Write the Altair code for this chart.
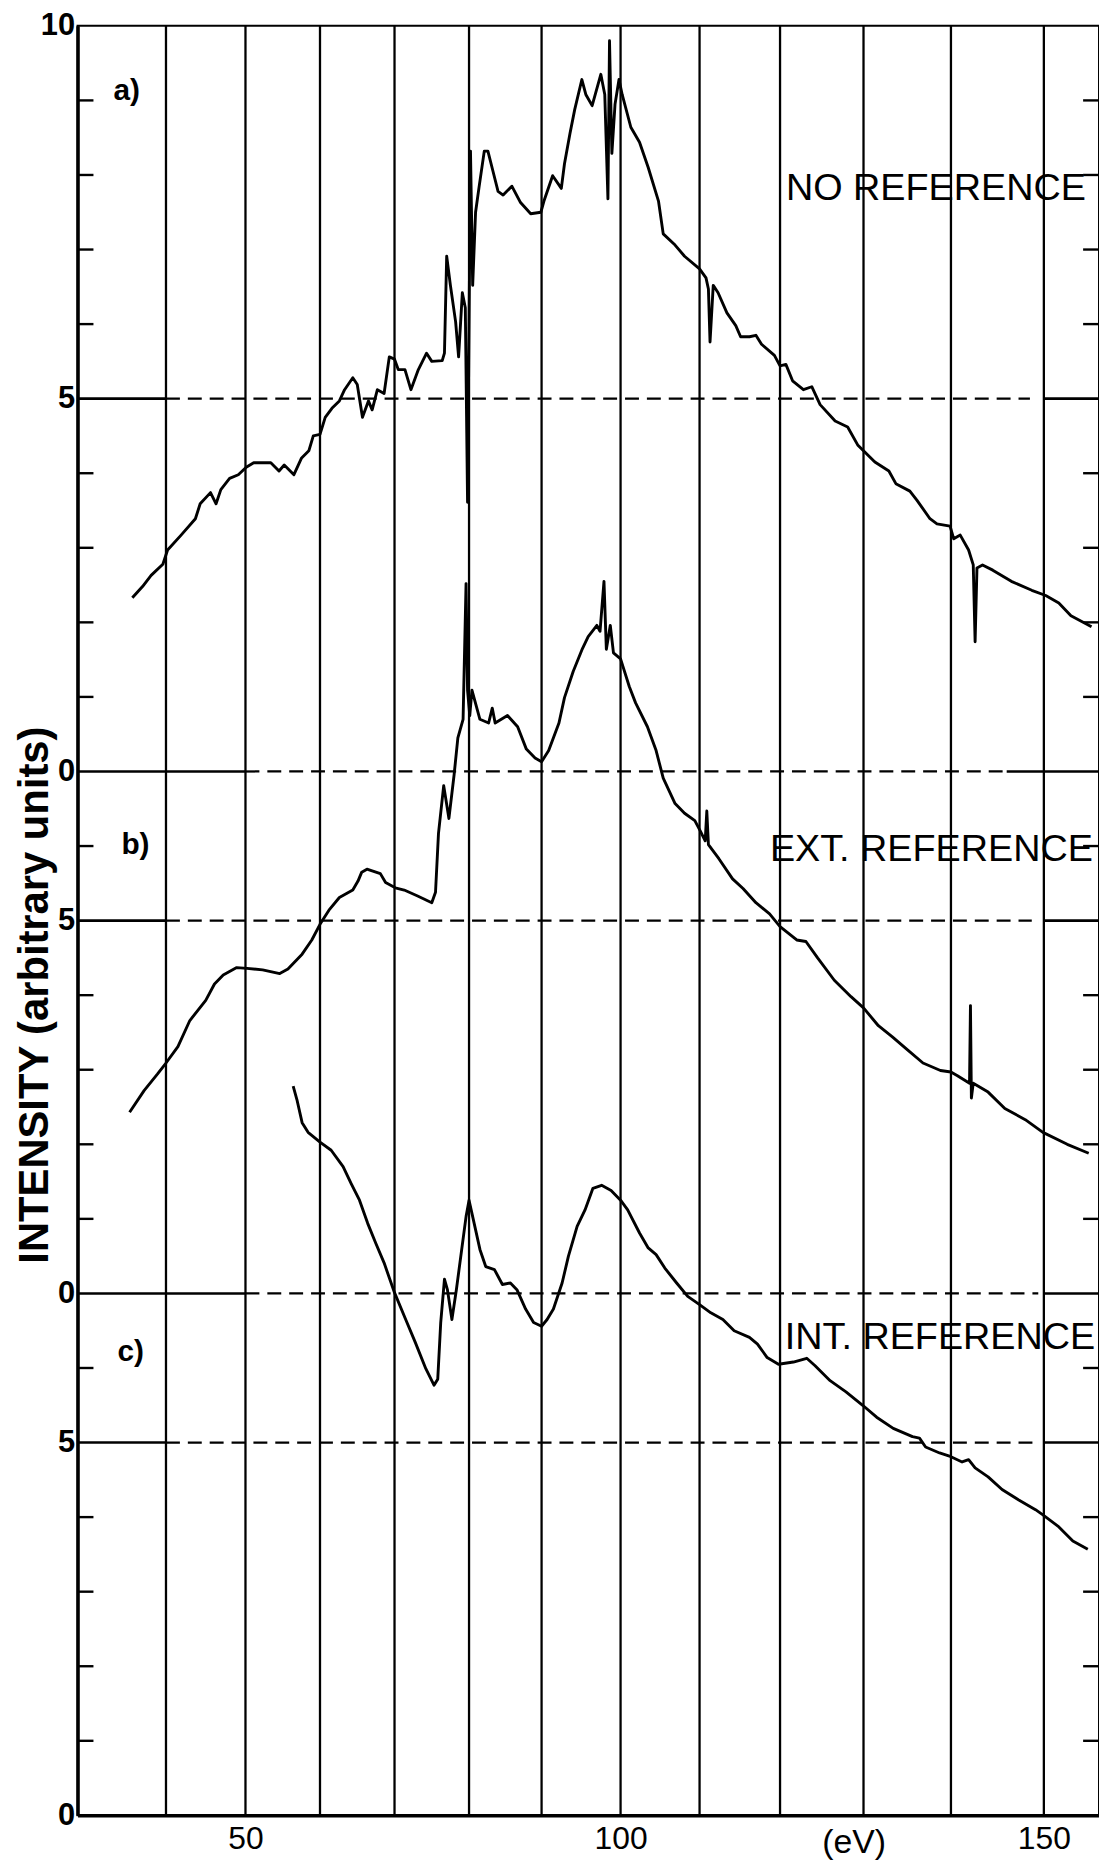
import altair as alt
import pandas as pd
import json

# ---------------- data ----------------
# x axis: photon energy in eV; y axis: one continuous 0..24 scale holding three offset panels
x_domain_ev = [28.7, 40, 50, 60, 70, 80, 90, 100, 110, 120, 130, 140, 150, 155.9]
x_range_px = [0, 89, 169, 244, 319, 394, 467, 546.5, 626, 707, 791, 879, 972.5, 1028]
grid_ev = [40, 50, 60, 70, 80, 90, 100, 110, 120, 130, 140, 150]
x_tick_values = [50, 100, 150]

y_tick_values = [0, 5, 7, 12, 14, 19, 24]
y_tick_labels = ["0", "5", "0", "5", "0", "5", "10"]

# horizontal reference lines: level, end of left solid part, end of dashes, start of right solid part
ref_vals = [19, 14, 12, 7, 5]
solid_left_end = [40, 50, 40, 50, 40]
dash_end = [148.5, 146.0, 148.7, 149.4, 149.4]
solid_right_start = [150, 146.0, 150, 150, 150]

# a) NO REFERENCE
ev_a = [35.7, 37.0, 38.1, 39.6, 40.2, 41.9, 43.7, 44.3, 45.6, 46.3, 46.9, 48.0, 49.1, 50.1, 51.1,
        53.4, 54.5, 55.2, 56.5, 57.5, 58.5, 59.1, 60.0, 60.7, 61.6, 62.6, 63.3, 64.4, 65.0, 65.7,
        66.5, 67.0, 67.7, 68.6, 69.3, 70.0, 70.5, 71.4, 72.2, 73.2, 74.3, 75.0, 76.4, 76.7, 77.0,
        77.5, 78.2, 78.6, 79.1, 79.5, 79.8, 80.2, 80.5, 80.9, 81.4, 82.1, 82.6, 83.3, 84.0, 84.7,
        85.9, 87.1, 88.5, 89.9, 90.3, 91.4, 92.5, 92.9, 93.6, 94.2, 95.1, 95.6, 96.4, 97.5, 98.0,
        98.4, 98.6, 98.9, 99.3, 99.8, 100.2, 101.3, 102.4, 103.5, 104.8, 105.4, 106.9, 108.1,
        110.0, 110.8, 111.1, 111.3, 111.7, 112.3, 113.4, 114.5, 115.1, 116.2, 117.0, 117.7,
        119.3, 120.0, 120.7, 121.5, 122.8, 123.8, 124.8, 126.6, 128.1, 129.3, 130.0, 131.3,
        132.9, 133.7, 135.3, 136.1, 137.6, 138.4, 139.9, 140.3, 141.0, 141.9, 142.4, 142.6,
        142.8, 143.4, 144.5, 146.5, 148.7, 150.2, 151.6, 152.9, 155.1]
int_a = [16.33, 16.48, 16.63, 16.78, 16.97, 17.17, 17.39, 17.59, 17.74, 17.59, 17.78, 17.93, 17.98,
         18.08, 18.14, 18.14, 18.03, 18.11, 17.98, 18.20, 18.30, 18.50, 18.52, 18.75, 18.87, 18.97,
         19.12, 19.28, 19.19, 18.75, 18.97, 18.85, 19.12, 19.07, 19.56, 19.53, 19.39, 19.39, 19.12,
         19.39, 19.61, 19.50, 19.51, 19.61, 20.91, 20.52, 20.03, 19.56, 20.42, 20.22, 17.61, 22.32,
         20.52, 21.50, 21.85, 22.32, 22.32, 22.05, 21.78, 21.73, 21.85, 21.63, 21.48, 21.50, 21.65,
         21.99, 21.82, 22.15, 22.56, 22.88, 23.28, 23.08, 22.93, 23.35, 23.08, 21.68, 23.80, 22.29,
         22.95, 23.28, 23.08, 22.64, 22.44, 22.10, 21.65, 21.21, 21.06, 20.91, 20.74, 20.62, 20.47,
         19.76, 20.52, 20.42, 20.15, 19.98, 19.83, 19.83, 19.85, 19.73, 19.58, 19.44, 19.46, 19.24,
         19.12, 19.16, 18.92, 18.70, 18.62, 18.38, 18.30, 18.15, 18.03, 17.86, 17.76, 17.64, 17.39,
         17.32, 17.29, 17.12, 17.17, 16.97, 16.77, 15.74, 16.73, 16.77, 16.70, 16.55, 16.43, 16.36,
         16.26, 16.09, 15.94]

# b) EXT. REFERENCE
ev_b = [35.35, 37.2, 38.9, 40.0, 41.5, 43.0, 45.0, 46.1, 47.2, 48.9, 50.2, 52.3, 54.6, 55.7, 57.6,
        58.9, 60.0, 61.2, 62.6, 64.4, 65.1, 65.6, 66.3, 68.1, 68.8, 70.1, 71.3, 73.1, 75.0, 75.5,
        75.9, 76.6, 77.3, 78.0, 78.5, 79.2, 79.6, 79.8, 80.1, 80.4, 81.5, 82.7, 83.2, 83.6, 85.3,
        86.7, 87.9, 89.1, 90.0, 90.9, 92.2, 92.9, 94.0, 95.1, 95.9, 97.0, 97.4, 97.9, 98.2, 98.7,
        99.1, 100.0, 101.1, 101.9, 103.4, 104.5, 105.4, 106.9, 108.1, 109.4, 110.1, 110.7, 110.9,
        111.1, 112.4, 114.1, 115.4, 117.0, 118.7, 120.0, 122.0, 123.1, 124.5, 126.5, 128.5, 130.0,
        131.7, 133.3, 134.8, 136.8, 138.8, 140.0, 140.7, 142.0, 142.1, 142.2, 142.4, 144.0, 145.8,
        148.0, 149.9, 152.5, 154.8]
int_b = [9.43, 9.72, 9.94, 10.09, 10.31, 10.66, 10.93, 11.15, 11.27, 11.37, 11.36, 11.34, 11.29,
         11.35, 11.55, 11.74, 11.95, 12.14, 12.31, 12.41, 12.53, 12.65, 12.69, 12.63, 12.51, 12.44,
         12.41, 12.33, 12.24, 12.38, 13.17, 13.81, 13.37, 13.96, 14.45, 14.70, 16.52, 15.09, 14.75,
         15.09, 14.70, 14.65, 14.85, 14.65, 14.75, 14.60, 14.30, 14.18, 14.13, 14.28, 14.65, 14.99,
         15.34, 15.63, 15.81, 15.96, 15.88, 16.55, 15.64, 15.96, 15.59, 15.51, 15.14, 14.92, 14.60,
         14.28, 13.91, 13.57, 13.44, 13.34, 13.20, 13.07, 13.47, 13.02, 12.83, 12.56, 12.43, 12.24,
         12.09, 11.92, 11.74, 11.72, 11.50, 11.20, 10.98, 10.83, 10.59, 10.44, 10.29, 10.09, 9.99,
         9.97, 9.92, 9.82, 10.86, 9.62, 9.82, 9.70, 9.48, 9.33, 9.16, 9.00, 8.88]

# c) INT. REFERENCE
ev_c = [56.4, 56.9, 57.6, 58.4, 60.0, 61.5, 63.1, 64.2, 65.3, 66.4, 67.5, 68.6, 70.0, 71.5, 72.8,
        74.2, 75.3, 75.8, 76.2, 76.7, 77.1, 77.7, 78.3, 79.6, 80.0, 80.5, 81.5, 82.3, 83.5, 84.6,
        85.7, 86.6, 87.8, 88.9, 90.0, 90.7, 91.5, 92.6, 93.4, 94.5, 95.5, 96.5, 97.6, 98.8, 100.0,
        100.9, 102.4, 103.5, 104.5, 105.6, 107.1, 108.5, 110.0, 111.4, 112.9, 114.3, 116.2, 117.2,
        118.4, 119.8, 121.6, 123.2, 124.2, 126.0, 127.9, 129.9, 131.5, 133.4, 135.6, 136.4, 137.1,
        138.7, 140.0, 141.2, 141.9, 142.6, 144.0, 145.5, 147.3, 149.1, 149.9, 151.5, 153.1, 154.7]
int_c = [9.78, 9.60, 9.29, 9.16, 9.03, 8.92, 8.70, 8.47, 8.25, 7.94, 7.67, 7.41, 7.01, 6.65, 6.34,
         5.99, 5.77, 5.85, 6.61, 7.19, 7.05, 6.65, 7.05, 8.03, 8.25, 8.03, 7.59, 7.36, 7.32, 7.12,
         7.14, 7.05, 6.79, 6.61, 6.56, 6.65, 6.79, 7.14, 7.50, 7.90, 8.12, 8.41, 8.45, 8.38, 8.25,
         8.12, 7.81, 7.61, 7.52, 7.34, 7.14, 6.96, 6.85, 6.74, 6.65, 6.50, 6.41, 6.32, 6.14, 6.05,
         6.08, 6.13, 6.03, 5.83, 5.68, 5.50, 5.34, 5.19, 5.08, 5.06, 4.94, 4.86, 4.81, 4.74, 4.77,
         4.66, 4.54, 4.37, 4.23, 4.10, 4.03, 3.88, 3.68, 3.57]

series_names = ["NO REFERENCE", "EXT. REFERENCE", "INT. REFERENCE"]
series_label_ev = [154.5, 155.25, 155.5]
series_label_val = [21.81, 12.94, 6.40]
panel_letters = ["a)", "b)", "c)"]
panel_ev = [33.3, 34.3, 33.8]
panel_val = [23.12, 13.01, 6.21]

# ---------------- tables ----------------
curves = pd.DataFrame(
    [{"ev": e, "val": v, "series": "a"} for e, v in zip(ev_a, int_a)]
    + [{"ev": e, "val": v, "series": "b"} for e, v in zip(ev_b, int_b)]
    + [{"ev": e, "val": v, "series": "c"} for e, v in zip(ev_c, int_c)]
)
x_min, x_max = x_domain_ev[0], x_domain_ev[-1]
grid = pd.DataFrame({"ev": grid_ev, "val": 0, "val2": 24})
solid_rows = []
dash_rows = []
for v, sl, de, sr in zip(ref_vals, solid_left_end, dash_end, solid_right_start):
    solid_rows.append({"ev": x_min, "ev2": sl, "val": v})
    solid_rows.append({"ev": sr, "ev2": x_max, "val": v})
    dash_rows.append({"ev": sl, "ev2": de, "val": v})
solid_df = pd.DataFrame(solid_rows)
dash_df = pd.DataFrame(dash_rows)
ticks_df = pd.DataFrame({"val": [t for t in range(1, 24) if t not in ref_vals]})
names_df = pd.DataFrame({"ev": series_label_ev, "val": series_label_val, "txt": series_names})
letters_df = pd.DataFrame({"ev": panel_ev, "val": panel_val, "txt": panel_letters})

FONT = "Liberation Sans"
W, H = 1028, 1801

label_expr = "{}[indexof({}, datum.value)]".format(json.dumps(y_tick_labels), json.dumps(y_tick_values))

x_scale = alt.Scale(domain=x_domain_ev, range=x_range_px, nice=False, zero=False)
y_scale = alt.Scale(domain=[0, 24], nice=False, zero=False)
x_axis = alt.Axis(values=x_tick_values, grid=False, ticks=False, domainWidth=3.5, domainColor="black",
                  labelFont=FONT, labelFontSize=32, labelColor="black", labelPadding=8,
                  labelFlush=False, labelOverlap=False,
                  title="(eV)", titleFont=FONT, titleFontSize=34, titleFontWeight="normal",
                  titleColor="black", titleX=781, titleY=27, titleAlign="center",
                  titleBaseline="middle")
y_axis = alt.Axis(values=y_tick_values, labelExpr=label_expr, grid=False, ticks=False,
                  domainWidth=3.5, domainColor="black", labelFont=FONT, labelFontSize=31,
                  labelFontWeight="bold", labelColor="black", labelPadding=3,
                  labelFlush=False, labelOverlap=False,
                  title="INTENSITY (arbitrary units)", titleFont=FONT, titleFontSize=42,
                  titleFontWeight="bold", titleColor="black", titleAngle=270,
                  titleX=-30, titleY=975, titleAlign="center", titleBaseline="alphabetic")


def X(field="ev"):
    return alt.X(f"{field}:Q", scale=x_scale, axis=x_axis)


def Y(field="val"):
    return alt.Y(f"{field}:Q", scale=y_scale, axis=y_axis)


grid_layer = alt.Chart(grid).mark_rule(color="black", strokeWidth=2.3).encode(
    x=X(), y=Y(), y2="val2:Q")
solid_layer = alt.Chart(solid_df).mark_rule(color="black", strokeWidth=2.6).encode(
    x=X(), x2="ev2:Q", y=Y())
dash_layer = alt.Chart(dash_df).mark_rule(color="black", strokeWidth=2.3, strokeDash=[14, 8]).encode(
    x=X(), x2="ev2:Q", y=Y())
tick_left = alt.Chart(ticks_df).mark_rule(color="black", strokeWidth=2.4).encode(
    y=Y(), x=alt.value(0), x2=alt.value(16))
tick_right = alt.Chart(ticks_df).mark_rule(color="black", strokeWidth=2.4).encode(
    y=Y(), x=alt.value(W - 16), x2=alt.value(W))
curve_layer = alt.Chart(curves).mark_line(color="black", strokeWidth=2.9, strokeJoin="round").encode(
    x=X(), y=Y(), detail="series:N", order="ev:Q")
names_layer = alt.Chart(names_df).mark_text(font=FONT, fontSize=38, align="right", baseline="middle",
                                            color="black").encode(x=X(), y=Y(), text="txt:N")
letters_layer = alt.Chart(letters_df).mark_text(font=FONT, fontSize=30, fontWeight="bold", align="left",
                                                baseline="middle", color="black").encode(
    x=X(), y=Y(), text="txt:N")

chart = alt.layer(grid_layer, solid_layer, dash_layer, tick_left, tick_right, curve_layer,
                  names_layer, letters_layer).properties(
    width=W, height=H,
    autosize=alt.AutoSizeParams(type="none"),
    padding={"left": 70, "top": 12, "right": 0, "bottom": 45},
    background="white",
).configure_view(stroke="black", strokeWidth=2)

chart.save("out.html", embed_options={"renderer": "svg", "actions": False})
